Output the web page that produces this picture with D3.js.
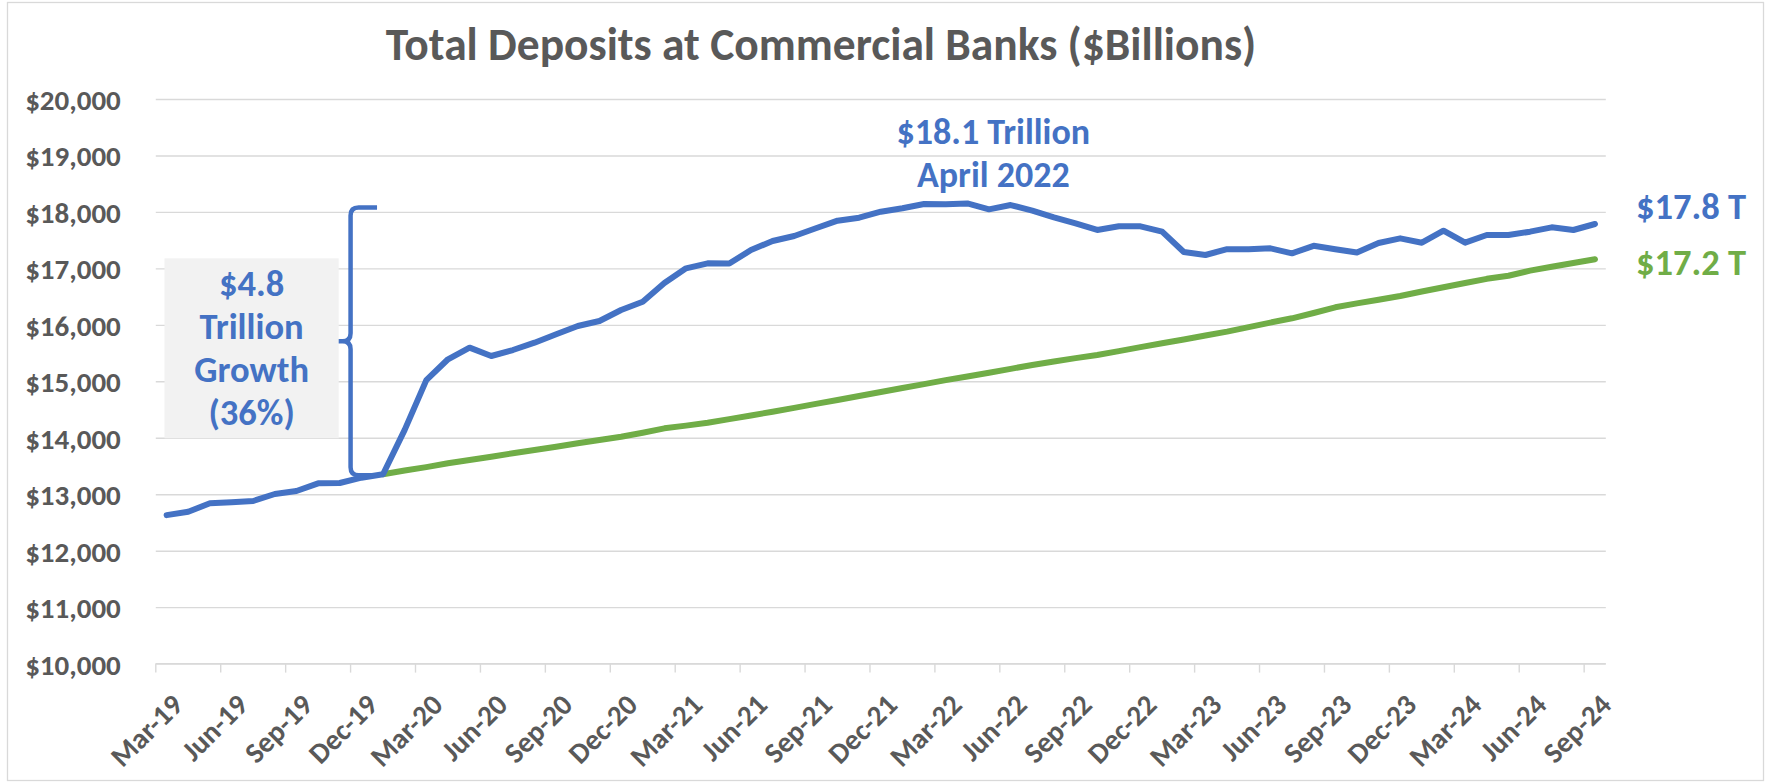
<!DOCTYPE html>
<html>
<head>
<meta charset="utf-8">
<script src="https://cdn.jsdelivr.net/npm/d3@7"></script>
<style>
  html, body { margin: 0; padding: 0; background: #fff; }
  svg { display: block; }
  text { font-family: Carlito, Calibri, Lato, sans-serif; font-weight: 700; }
</style>
</head>
<body>
<svg id="chart" width="1771" height="783"></svg>
<script>
// Monthly categories, Mar-19 through Sep-24
const months = [
  "Mar-19","Apr-19","May-19","Jun-19","Jul-19","Aug-19","Sep-19","Oct-19","Nov-19","Dec-19",
  "Jan-20","Feb-20","Mar-20","Apr-20","May-20","Jun-20","Jul-20","Aug-20","Sep-20","Oct-20","Nov-20","Dec-20",
  "Jan-21","Feb-21","Mar-21","Apr-21","May-21","Jun-21","Jul-21","Aug-21","Sep-21","Oct-21","Nov-21","Dec-21",
  "Jan-22","Feb-22","Mar-22","Apr-22","May-22","Jun-22","Jul-22","Aug-22","Sep-22","Oct-22","Nov-22","Dec-22",
  "Jan-23","Feb-23","Mar-23","Apr-23","May-23","Jun-23","Jul-23","Aug-23","Sep-23","Oct-23","Nov-23","Dec-23",
  "Jan-24","Feb-24","Mar-24","Apr-24","May-24","Jun-24","Jul-24","Aug-24","Sep-24"
];

// Quarterly axis labels
const tickLabels = [
  "Mar-19","Jun-19","Sep-19","Dec-19","Mar-20","Jun-20","Sep-20","Dec-20",
  "Mar-21","Jun-21","Sep-21","Dec-21","Mar-22","Jun-22","Sep-22","Dec-22",
  "Mar-23","Jun-23","Sep-23","Dec-23","Mar-24","Jun-24","Sep-24"
];

// Total deposits, $ billions
const deposits = [
  12630, 12690, 12840, 12857, 12880, 13004, 13057, 13193, 13199, 13293,
  13353, 14140, 15020, 15390, 15596, 15448, 15554, 15684, 15832, 15980, 16068, 16263,
  16410, 16740, 17001, 17090, 17085, 17325, 17485, 17573, 17710, 17845, 17898, 18004,
  18064, 18140, 18135, 18150, 18046, 18122, 18022, 17905, 17798, 17680, 17745, 17745,
  17650, 17290, 17237, 17340, 17340, 17355, 17267, 17400, 17338, 17282, 17450, 17532,
  17455, 17668, 17455, 17591, 17591, 17650, 17727, 17680, 17786
];

// Pre-pandemic growth path from Jan-20 onward, $ billions
const trendStart = "Jan-20";
const trend = [
  13353, 13420, 13480, 13548, 13605, 13665, 13725, 13783, 13842, 13902, 13960, 14019,
  14090, 14167, 14215, 14267, 14330, 14395, 14462, 14530, 14600, 14669, 14740, 14810,
  14880, 14950, 15020, 15085, 15150, 15220, 15289, 15350, 15410, 15466, 15535, 15605,
  15673, 15740, 15810, 15879, 15960, 16040, 16116, 16210, 16311, 16380, 16445, 16511,
  16590, 16665, 16740, 16815, 16870, 16960, 17030, 17095, 17161
];

const yTicks = [10000, 11000, 12000, 13000, 14000, 15000, 16000, 17000, 18000, 19000, 20000];

const peakLabel = ["$18.1 Trillion", "April 2022"];
const growthLabel = ["$4.8", "Trillion", "Growth", "(36%)"];
const endLabels = ["$17.8 T", "$17.2 T"];
const title = "Total Deposits at Commercial Banks ($Billions)";

const BLUE = "#4472C4", GREEN = "#70AD47", TEXT = "#595959", GRID = "#D9D9D9";
const FONT = "Carlito, Calibri, Lato, sans-serif";

const W = 1771, H = 783;
const plot = { left: 155.8, right: 1605.8, top: 99, bottom: 663.6 };

const svg = d3.select("#chart");

// chart frame
svg.append("rect")
  .attr("x", 7.5).attr("y", 2.5)
  .attr("width", W - 15).attr("height", H - 5)
  .attr("fill", "#fff").attr("stroke", GRID).attr("stroke-width", 1.3);

const x = d3.scaleBand().domain(months).range([plot.left, plot.right]).padding(0);
const bw = x.bandwidth();
const cx = m => x(m) + bw / 2;
const y = d3.scaleLinear().domain([10000, 20000]).range([plot.bottom, plot.top]);

// title
svg.append("text")
  .attr("x", 821).attr("y", 60)
  .attr("text-anchor", "middle")
  .attr("fill", TEXT)
  .style("font-size", "45.5px")
  .text(title);

// y axis with gridlines
const yAxis = svg.append("g")
  .attr("transform", `translate(${plot.left},0)`)
  .call(d3.axisLeft(y).tickValues(yTicks)
    .tickSize(-(plot.right - plot.left))
    .tickPadding(35)
    .tickFormat(d => "$" + d3.format(",")(d)));
yAxis.select(".domain").remove();
yAxis.selectAll(".tick line").attr("stroke", GRID).attr("stroke-width", 1.4);
yAxis.selectAll(".tick text")
  .attr("fill", TEXT)
  .attr("dy", "0.36em")
  .style("font-size", "29px")
  .style("font-family", FONT)
  .style("font-weight", 700);

// x axis: tick marks on category boundaries, labels at category centres
const xAxis = svg.append("g")
  .attr("transform", `translate(0,${plot.bottom})`)
  .call(d3.axisBottom(x).tickValues(tickLabels).tickSize(9).tickSizeOuter(0));
xAxis.select(".domain").attr("stroke", GRID).attr("stroke-width", 1.4)
  .attr("d", `M${plot.left},0H${plot.right}`);
xAxis.selectAll(".tick line")
  .attr("stroke", GRID).attr("stroke-width", 1.4)
  .attr("transform", `translate(${-bw / 2},0)`);
xAxis.selectAll(".tick text")
  .attr("fill", TEXT)
  .attr("text-anchor", "end")
  .attr("y", 0).attr("dy", 0)
  .attr("transform", "translate(18,43) rotate(-45)")
  .style("font-size", "29px")
  .style("font-family", FONT)
  .style("font-weight", 700);

// series lines
const line = d3.line()
  .x(d => cx(d.m))
  .y(d => y(d.v));

const depositData = months.map((m, i) => ({ m, v: deposits[i] }));
const t0 = months.indexOf(trendStart);
const trendData = trend.map((v, i) => ({ m: months[t0 + i], v }));

svg.append("path")
  .datum(trendData)
  .attr("d", line)
  .attr("fill", "none")
  .attr("stroke", GREEN)
  .attr("stroke-width", 6)
  .attr("stroke-linejoin", "round")
  .attr("stroke-linecap", "round");

svg.append("path")
  .datum(depositData)
  .attr("d", line)
  .attr("fill", "none")
  .attr("stroke", BLUE)
  .attr("stroke-width", 6)
  .attr("stroke-linejoin", "round")
  .attr("stroke-linecap", "round");

// growth bracket from the Jan-20 level up to the peak
const peakIdx = deposits.indexOf(d3.max(deposits));
const baseVal = deposits[t0];
const bx = x("Dec-19");
const yT = y(deposits[peakIdx]) + 4;
const yB = y(baseVal) + 1;
const yM = (yT + yB) / 2;
const xR = cx(trendStart) - 6;
const xL = bx - 27;
const r = 8;
const brace = d3.path();
brace.moveTo(xR, yT);
brace.lineTo(bx + r, yT);
brace.quadraticCurveTo(bx, yT, bx, yT + r);
brace.lineTo(bx, yM - r);
brace.quadraticCurveTo(bx, yM, bx - r, yM);
brace.lineTo(xL, yM);
brace.moveTo(bx - r, yM);
brace.quadraticCurveTo(bx, yM, bx, yM + r);
brace.lineTo(bx, yB - r);
brace.quadraticCurveTo(bx, yB, bx + r, yB);
brace.lineTo(xR, yB);
svg.append("path")
  .attr("d", brace.toString())
  .attr("fill", "none")
  .attr("stroke", BLUE)
  .attr("stroke-width", 4.5)
  .attr("stroke-linejoin", "round");

// growth label box
const boxX = 164.5, boxY = 258.3, boxW = 174.2, boxH = 180;
svg.append("rect")
  .attr("x", boxX).attr("y", boxY)
  .attr("width", boxW).attr("height", boxH)
  .attr("fill", "#F2F2F2");
svg.append("g").selectAll("text")
  .data(growthLabel)
  .join("text")
  .attr("x", boxX + boxW / 2)
  .attr("y", (d, i) => 296 + i * 43)
  .attr("text-anchor", "middle")
  .attr("fill", BLUE)
  .style("font-size", "36.5px")
  .text(d => d);

// peak label
const peakX = cx(months[peakIdx]) + 26;
const peakY = y(deposits[peakIdx]);
svg.append("g").selectAll("text")
  .data(peakLabel)
  .join("text")
  .attr("x", peakX)
  .attr("y", (d, i) => peakY - 59 + i * 43)
  .attr("text-anchor", "middle")
  .attr("fill", BLUE)
  .style("font-size", "36px")
  .text(d => d);

// end-of-series labels
const lastM = months[months.length - 1];
svg.append("text")
  .attr("x", cx(lastM) + 41)
  .attr("y", y(deposits[deposits.length - 1]) - 5.5)
  .attr("fill", BLUE)
  .style("font-size", "36.5px")
  .text(endLabels[0]);
svg.append("text")
  .attr("x", cx(lastM) + 41)
  .attr("y", y(trend[trend.length - 1]) + 15.5)
  .attr("fill", GREEN)
  .style("font-size", "36.5px")
  .text(endLabels[1]);
</script>
</body>
</html>
